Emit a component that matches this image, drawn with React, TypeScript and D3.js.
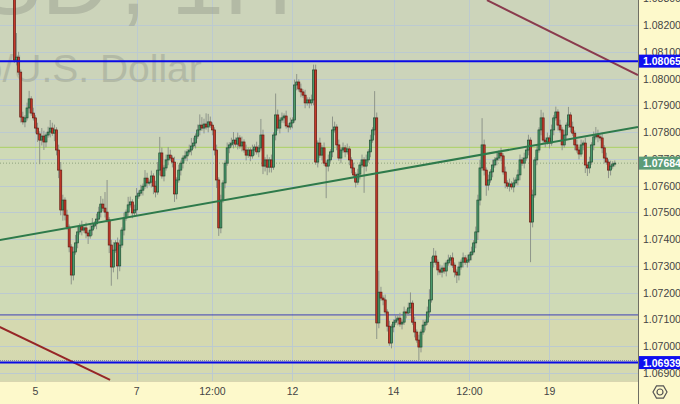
import React from "react";
import * as d3 from "d3";

// ---------- DATA (prices as pips above BASE) ----------
const BASE = 1.07;
const PIP = 0.0001;
const OPEN0 = 133.1;
const CLOSE = [
  106.9,108.0,102.4,85.6,83.8,85.3,89.0,92.4,87.1,85.3,81.5,79.3,77.0,78.5,76.3,78.9,80.0,81.5,79.6,80.8,
  73.3,65.8,50.9,54.6,49.0,44.5,37.1,26.6,35.2,38.6,42.7,44.9,43.4,44.2,42.3,41.2,43.4,44.9,45.7,47.5,
  50.1,53.1,51.6,50.1,47.2,37.8,29.6,35.9,38.6,30.0,37.8,43.4,47.9,50.1,52.8,53.9,49.8,50.9,56.1,57.2,
  58.3,59.8,62.8,61.0,61.3,63.6,59.8,57.6,65.8,72.2,63.6,66.6,69.6,71.4,70.3,68.8,56.9,62.1,65.8,68.4,
  70.3,71.1,72.6,73.3,74.8,75.9,78.5,80.8,82.6,81.5,83.0,81.9,83.8,82.6,80.8,73.3,62.1,44.2,54.6,61.0,
  68.4,74.1,75.2,75.9,77.0,75.5,77.8,74.8,76.3,73.3,71.4,73.3,71.1,73.3,74.4,72.6,74.1,78.9,67.3,69.6,
  66.9,69.6,66.9,78.9,86.4,81.5,84.5,85.3,86.0,82.3,81.9,83.4,84.5,97.6,98.7,96.1,95.0,93.8,90.9,92.0,
  90.9,92.0,103.2,68.8,75.9,71.4,74.1,68.4,67.3,69.6,72.6,80.8,81.9,75.2,70.3,73.3,74.1,72.6,73.7,69.6,
  66.6,64.0,61.3,64.3,67.7,69.6,67.3,69.6,72.6,77.0,80.8,85.3,8.7,20.2,18.0,17.3,12.8,7.5,1.2,7.2,
  9.0,9.8,10.5,8.3,9.0,12.8,12.4,14.3,16.1,9.0,5.3,2.3,-0.3,5.3,7.9,9.0,12.8,17.3,31.4,33.7,
  31.4,28.5,27.7,29.2,28.1,31.1,32.2,33.0,30.3,27.7,26.6,29.6,31.4,33.0,31.4,32.2,34.1,35.2,38.6,42.7,
  54.6,66.6,75.2,65.8,60.2,62.1,65.1,67.7,69.6,70.3,72.2,71.1,65.1,61.0,59.8,60.6,59.5,61.0,62.1,64.0,
  69.6,68.4,70.3,73.3,77.0,46.4,56.5,69.6,73.3,80.8,85.3,77.0,76.3,77.8,75.9,80.8,85.3,87.5,82.6,80.8,
  75.2,78.9,82.6,86.4,81.9,79.6,75.2,73.3,71.8,75.2,75.9,67.7,66.6,68.8,75.2,78.2,78.9,78.2,77.8,74.1,
  70.3,68.8,65.8,67.3,68.1,68.4,
];
const HI_EXT = [
  7,9,2,1,2,1,2,3,1,2,1,2,1,3,2,1,2,3,2,2,
  1,2,3,2,1,2,1,1,2,3,2,1,2,1,2,1,2,3,1,2,
  2,3,2,6,12,1,2,3,1,2,2,1,2,1,3,2,1,2,3,1,
  2,1,3,2,1,2,1,2,3,6,2,1,2,3,2,1,2,1,2,1,
  1,2,1,2,3,2,1,2,4,3,2,4,3,2,1,1,2,1,2,1,
  1,2,1,2,3,1,2,1,2,1,2,1,1,2,1,2,1,6,2,1,
  2,1,2,1,8,2,1,2,1,2,1,2,1,2,3,1,2,1,2,1,
  1,2,2,2,1,2,1,2,1,2,1,5,2,1,2,1,2,1,2,1,
  1,2,1,2,1,2,1,2,1,2,1,10,2,8,2,1,2,1,2,1,
  1,2,1,2,1,2,1,2,4,1,2,1,2,1,2,1,2,4,2,3,
  2,1,2,1,2,1,2,1,2,1,1,2,1,2,1,2,1,2,1,2,
  2,3,10,2,1,2,1,2,1,2,1,2,1,2,1,2,1,2,1,2,
  2,1,2,1,2,1,2,1,2,1,3,2,1,2,1,2,1,2,1,2,
  1,2,1,3,1,2,1,2,1,2,1,2,1,2,1,2,3,2,1,2,
  1,2,1,2,1,1,
];
const LO_EXT = [
  1,2,1,2,1,2,1,2,1,1,2,3,9,2,3,2,1,2,1,3,
  2,3,2,4,2,1,2,3.5,2,1,2,1,2,1,2,3,1,2,1,2,
  1,2,1,2,1,3,7,2,1,5,2,1,2,1,2,1,2,1,2,1,
  1,2,1,2,1,2,3,2,1,2,1,2,1,2,1,2,3,2,1,2,
  2,1,2,1,2,1,2,1,2,1,2,1,2,1,2,2,3,3,2,1,
  2,1,2,1,2,1,2,1,2,1,2,1,2,1,2,1,2,1,3,2,
  3,2,2,1,2,1,2,1,2,1,2,1,2,1,2,1,2,1,2,1,
  2,1,2,1,2,1,2,1,12,2,1,2,1,2,1,2,1,2,1,2,
  2,1,2,1,2,1,10,2,1,2,1,2,6,2,1,2,1,2,1,2,
  2,1,2,1,2,1,2,1,2,1,2,1,5,2,1,2,1,2,1,2,
  1,2,1,2,1,2,1,2,1,2,3,2,1,2,1,2,1,2,1,2,
  3,2,1,2,4,2,1,2,1,2,1,2,1,2,1,2,1,2,1,2,
  2,1,2,1,2,15,2,1,2,1,2,1,2,1,2,1,2,1,2,1,
  2,1,2,1,2,1,2,1,2,1,2,3,3,2,1,2,1,2,1,2,
  2,1,3,2,1,1,
];

const PRICE_TICKS = [1.083,1.082,1.081,1.080,1.079,1.078,1.077,1.076,1.075,1.074,1.073,1.072,1.071,1.070,1.069];
const TIME_TICK_IDX = [10, 58, 94, 132, 180, 216, 254];
const TIME_TICK_LABELS = ["5", "7", "12:00", "12", "14", "12:00", "19"];

const LEVEL_UPPER = 1.08065;
const LEVEL_LOWER = 1.06939;
const LEVEL_THIN = 1.07117;
const LEVEL_LIGHT = 1.07743;
const LAST_PRICE = 1.07684;

// trend lines: [candle index, price]
const TREND_GREEN = [[-7, 1.07397], [296, 1.07819]];
const TREND_TOP = [[224.3, 1.08293], [296, 1.08013]];
const TREND_BOTTOM = [[-7, 1.07072], [45.4, 1.06874]];

// watermark texts
const WM_SYMBOL = "EURUSD";
const WM_SEP = ",";
const WM_INTERVAL = "1H";
const WM_DESC = "Euro/U.S. Dollar";

// ---------- LAYOUT ----------
const W = 680, H = 404;
const PW = 638, PH = 381;

export default function App() {
  const x = d3.scaleLinear().domain([0, CLOSE.length - 1]).range([14.4, 614.8]);
  const y = d3.scaleLinear().domain([1.069, 1.082]).range([373, 25]);
  const p = (v: number) => BASE + v * PIP;

  const candles = CLOSE.map((c, i) => {
    const o = i === 0 ? OPEN0 : CLOSE[i - 1];
    const hi = Math.max(o, c) + HI_EXT[i];
    const lo = Math.min(o, c) - LO_EXT[i];
    return { i, o: p(o), c: p(c), h: p(hi), l: p(lo) };
  });

  const line = d3.line<number[]>().x(d => x(d[0])).y(d => y(d[1]));
  const font = "'Liberation Sans', Arial, sans-serif";
  const bw = 2.0;
  const wmFill = "#969c8c";
  const wmOp = 0.45;

  return (
    <svg width={W} height={H} style={{ position: "absolute", left: 0, top: 0, display: "block" }}>
      <defs>
        <clipPath id="plot"><rect x={0} y={0} width={PW} height={PH} /></clipPath>
      </defs>
      {/* backgrounds */}
      <rect x={0} y={0} width={PW} height={y(LEVEL_LIGHT)} fill="#ccd4ba" />
      <rect x={0} y={y(LEVEL_LIGHT)} width={PW} height={y(LEVEL_THIN) - y(LEVEL_LIGHT)} fill="#cfdab6" />
      <rect x={0} y={y(LEVEL_THIN)} width={PW} height={PH - y(LEVEL_THIN)} fill="#d5d9b0" />

      <g clipPath="url(#plot)">
        {/* grid */}
        {PRICE_TICKS.map(t => (
          <line key={"hg" + t} x1={0} x2={PW} y1={Math.round(y(t)) + 0.5} y2={Math.round(y(t)) + 0.5} stroke="#bccad0" strokeWidth={1} />
        ))}
        {TIME_TICK_IDX.map(t => (
          <line key={"vg" + t} x1={Math.round(x(t)) + 0.5} x2={Math.round(x(t)) + 0.5} y1={0} y2={PH} stroke="#bccad0" strokeWidth={1} />
        ))}

        {/* watermark */}
        <g fontFamily={font} fill={wmFill} opacity={wmOp}>
          <text x={110} y={13.5} textAnchor="end" fontSize={95}>{WM_SYMBOL}</text>
          <text x={120} y={13.5} fontSize={95}>{WM_SEP}</text>
          <text x={171} y={13.5} fontSize={95}>{WM_INTERVAL}</text>
          <text x={-80} y={82} fontSize={39}>{WM_DESC}</text>
        </g>

        {/* horizontal levels */}
        <line x1={0} x2={PW} y1={y(LEVEL_LIGHT)} y2={y(LEVEL_LIGHT)} stroke="#a9cf62" strokeWidth={1} />
        <line x1={0} x2={PW} y1={y(LEVEL_THIN)} y2={y(LEVEL_THIN)} stroke="#3b3fb4" strokeWidth={1} />
        <line x1={0} x2={PW} y1={y(LAST_PRICE)} y2={y(LAST_PRICE)} stroke="#8fa37f" strokeWidth={1} strokeDasharray="1,2" />
        <line x1={0} x2={PW} y1={y(LEVEL_LOWER) - 2} y2={y(LEVEL_LOWER) - 2} stroke="#7a7fa8" strokeWidth={1} strokeDasharray="1,1" />

        {/* candles */}
        {candles.map(d => (
          <line key={"w" + d.i} x1={x(d.i)} x2={x(d.i)} y1={y(d.h)} y2={y(d.l)} stroke="#8e958a" strokeWidth={1} />
        ))}
        {candles.map(d => {
          const up = d.c >= d.o;
          const top = y(Math.max(d.o, d.c));
          const hgt = Math.max(1, Math.abs(y(d.o) - y(d.c)));
          return (
            <rect key={"b" + d.i} x={x(d.i) - bw / 2} y={top} width={bw} height={hgt}
              fill={up ? "#4b9a6c" : "#c7392b"} stroke={up ? "#1f4e33" : "#641a12"} strokeWidth={0.7} />
          );
        })}

        {/* trend lines */}
        <path d={line(TREND_GREEN) || ""} stroke="#2e7a4b" strokeWidth={2} fill="none" />
        <path d={line(TREND_TOP) || ""} stroke="#8a3b4d" strokeWidth={2} fill="none" />
        <path d={line(TREND_BOTTOM) || ""} stroke="#962626" strokeWidth={2} fill="none" />

        {/* thick blue levels */}
        <line x1={0} x2={PW} y1={y(LEVEL_UPPER)} y2={y(LEVEL_UPPER)} stroke="#0a0ae6" strokeWidth={2} />
        <line x1={0} x2={PW} y1={y(LEVEL_LOWER)} y2={y(LEVEL_LOWER)} stroke="#0a0ae6" strokeWidth={2} />
      </g>

      {/* axes backgrounds */}
      <rect x={PW} y={0} width={W - PW} height={H} fill="#fdf9cb" />
      <rect x={0} y={PH} width={PW} height={H - PH} fill="#fdf9cb" />
      <line x1={0} x2={PW} y1={PH + 0.5} y2={PH + 0.5} stroke="#d9d6b0" strokeWidth={1} />
      <line x1={PW + 0.5} x2={PW + 0.5} y1={0} y2={H} stroke="#6e6e64" strokeWidth={1} />

      {/* price labels */}
      {PRICE_TICKS.map(t => (
        <text key={"pl" + t} x={643} y={y(t) + 4} fontFamily={font} fontSize={10.5} fill="#444">{t.toFixed(5)}</text>
      ))}
      {/* time labels */}
      {TIME_TICK_IDX.map((t, k) => (
        <text key={"tl" + t} x={x(t)} y={395} textAnchor="middle" fontFamily={font} fontSize={10.5} fill="#444">{TIME_TICK_LABELS[k]}</text>
      ))}

      {/* price badges */}
      {[
        { v: LEVEL_UPPER, c: "#0f0ff0" },
        { v: LAST_PRICE, c: "#5c9c78" },
        { v: LEVEL_LOWER, c: "#0f0ff0" },
      ].map(b => (
        <g key={"badge" + b.v}>
          <rect x={PW + 1} y={y(b.v) - 6.5} width={W - PW - 1} height={13} fill={b.c} />
          <text x={PW + 5} y={y(b.v) + 4} fontFamily={font} fontSize={10.5} fontWeight="bold" fill="#fff">{b.v.toFixed(5)}</text>
        </g>
      ))}

      {/* settings icon */}
      <g transform="translate(660,392)" fill="none" stroke="#555" strokeWidth={1.2}>
        <path d={d3.range(6).map(k => {
          const a = Math.PI / 3 * k;
          return (k === 0 ? "M" : "L") + (7 * Math.cos(a)).toFixed(2) + "," + (7 * Math.sin(a)).toFixed(2);
        }).join("") + "Z"} />
        <circle r={3} />
      </g>
    </svg>
  );
}
